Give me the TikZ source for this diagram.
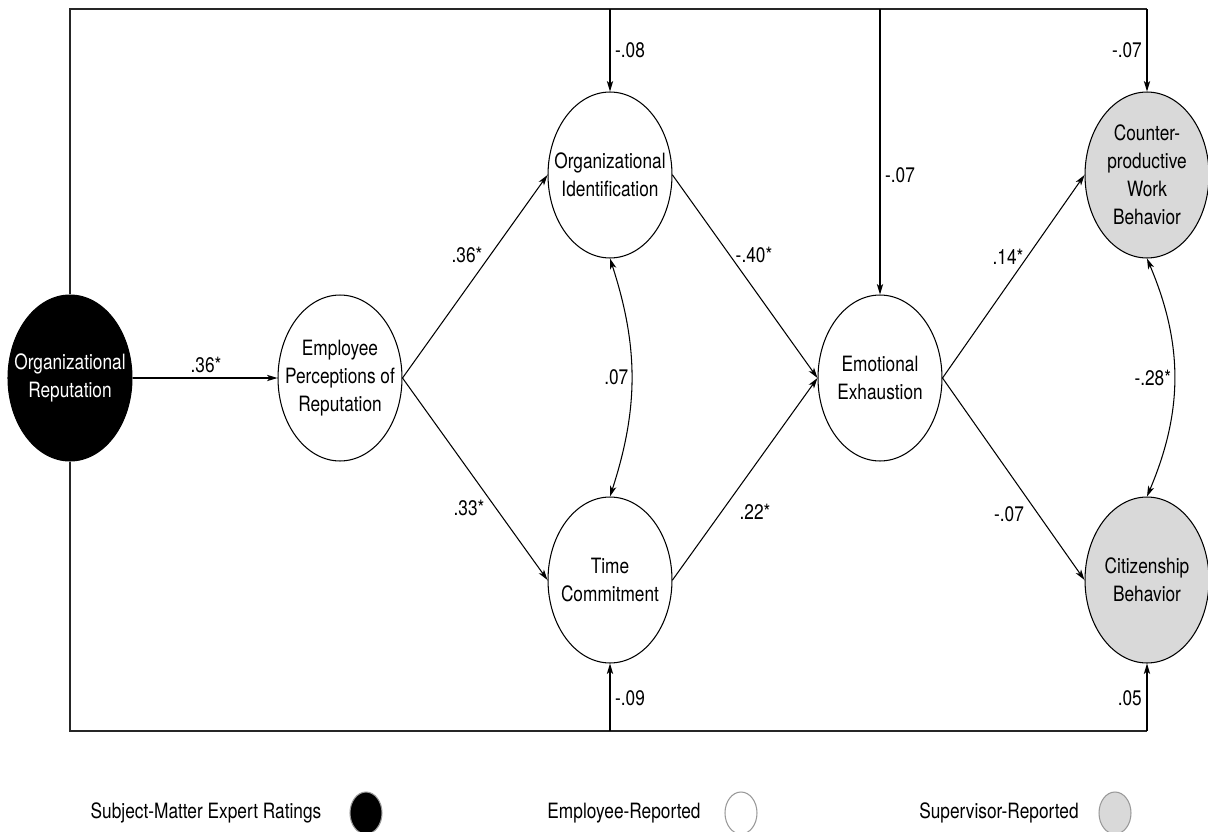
\documentclass[tikz,border=0pt]{standalone}
\usepackage{fontspec}
\setmainfont{TeX Gyre Heros}[FakeStretch=0.82]
\usetikzlibrary{shapes.geometric,arrows.meta}

\tikzset{
  latent/.style={draw, ellipse, minimum width=2.48cm, minimum height=3.32cm, inner xsep=-8pt, inner ysep=0pt, align=center},
  coef/.style={inner sep=1.5pt},
  key/.style={draw=gray!80, ellipse, minimum width=0.64cm, minimum height=0.84cm, inner sep=0pt},
  frame/.style={draw=black!85, line width=0.8pt}
}

\begin{document}
\begin{tikzpicture}[x=0.02cm, y=-0.02cm, >={Stealth[length=6pt,width=3.6pt,inset=1.6pt]}, line width=0.6pt, font=\fontsize{12}{16}\selectfont]
			\useasboundingbox (0,0) rectangle (1208,832);

			% Draw constructs
			\node[latent, fill=black, text=white] (rep) at (70,378) {Organizational\\Reputation};
			\node[latent] (perc) at (340,378) {Employee\\Perceptions of\\Reputation};
			\node[latent] (ident) at (610,175) {Organizational\\Identification};
			\node[latent] (time) at (610,580) {Time\\Commitment};
			\node[latent] (exh) at (880,378) {Emotional\\Exhaustion};
			\node[latent, fill=gray!30] (cwb) at (1147,175) {Counter-\\productive\\Work\\Behavior};
			\node[latent, fill=gray!30] (ocb) at (1147,580) {Citizenship\\Behavior};

			% Draw structural paths
			\draw[->] (rep) -- (perc);
			\draw[->] (perc.east) -- (ident.west);
			\draw[->] (perc.east) -- (time.west);
			\draw[->] (ident.east) -- (exh.west);
			\draw[->] (time.east) -- (exh.west);
			\draw[->] (exh.east) -- (cwb.west);
			\draw[->] (exh.east) -- (ocb.west);

			% Covariances
			\draw[<->] (ident.south) to[bend left=18] node[coef, left] (cov1) {.07} (time.north);
			\draw[<->] (cwb.south) to[bend left=23] node[coef, left] (cov2) {-.28*} (ocb.north);

			% Control paths from reputation
			\coordinate (topR) at (cwb.north |- 0,9);
			\coordinate (botR) at (ocb.south |- 0,731);
			\draw[frame] (rep.north) |- (topR);
			\draw[frame] (rep.south) |- (botR);
			\draw[->] (topR) -- (cwb.north);
			\draw[->] (botR) -- (ocb.south);
			\foreach \n in {ident, exh}
				\draw[->] (\n.north |- topR) -- (\n.north);
			\draw[->] (time.south |- botR) -- (time.south);

			% Path coefficients
			\node[coef] (b1) at (206,365) {.36*};
			\node[coef] (b2) at (467,255) {.36*};
			\node[coef] (b3) at (469,508) {.33*};
			\node[coef] (b4) at (754,255) {-.40*};
			\node[coef] (b5) at (755,512) {.22*};
			\node[coef] (b6) at (1008,257) {.14*};
			\node[coef] (b7) at (1009,514) {-.07};
			\node[coef, anchor=west] (b8) at (612,50) {-.08};
			\node[coef, anchor=west] (b9) at (882,175) {-.07};
			\node[coef, anchor=east] (b10) at (1145,50) {-.07};
			\node[coef, anchor=west] (b11) at (612,698) {-.09};
			\node[coef, anchor=east] (b12) at (1145,698) {.05};

			% Legend
			\foreach \txt/\tx/\ex/\col in {Subject-Matter Expert Ratings/206/366/black, Employee-Reported/624/741/white, Supervisor-Reported/999/1115/gray!30}
			{
				\node (lab\ex) at (\tx,813) {\txt};
				\node[key, fill=\col] (key\ex) at (\ex,813) {};
			}

		\end{tikzpicture}
\end{document}
